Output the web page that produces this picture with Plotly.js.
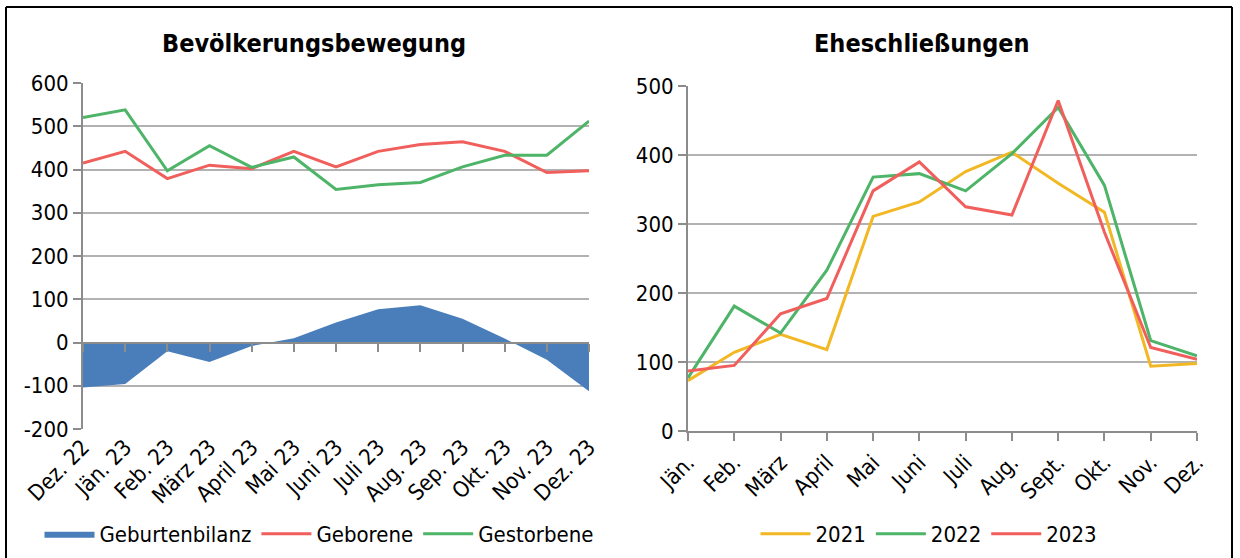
<!DOCTYPE html>
<html>
<head>
<meta charset="utf-8">
<script src="https://cdn.plot.ly/plotly-3.0.1.min.js"></script>
<style>
  html, body { margin: 0; padding: 0; background: #ffffff; }
  #chart { width: 1240px; height: 558px; }
</style>
</head>
<body>
<div id="chart"></div>
<script>
// ---- Data: Bevölkerungsbewegung ----
const monthsLeft = ['Dez. 22', 'Jän. 23', 'Feb. 23', 'März 23', 'April 23', 'Mai 23', 'Juni 23',
                    'Juli 23', 'Aug. 23', 'Sep. 23', 'Okt. 23', 'Nov. 23', 'Dez. 23'];
const geburtenbilanz = [-104, -96, -20, -45, -8, 10, 46, 77, 86, 55, 9, -40, -113];
const geborene       = [415, 442, 379, 410, 402, 442, 406, 442, 458, 464, 442, 393, 397];
const gestorbene     = [520, 538, 397, 455, 405, 429, 354, 365, 370, 406, 433, 433, 512];

// ---- Data: Eheschließungen ----
const monthsRight = ['Jän.', 'Feb.', 'März', 'April', 'Mai', 'Juni', 'Juli', 'Aug.', 'Sept.', 'Okt.', 'Nov.', 'Dez.'];
const ehe2021 = [73, 114, 140, 118, 311, 332, 376, 404, 359, 317, 94, 98];
const ehe2022 = [77, 181, 142, 233, 368, 373, 348, 402, 469, 356, 131, 109];
const ehe2023 = [87, 95, 170, 192, 348, 390, 325, 313, 479, 288, 121, 104];

const leftTicks = [-200, -100, 0, 100, 200, 300, 400, 500, 600];
const leftTickText = ['-200', '-100', '0', '100', '200', '300', '400', '500', '600'];
const rightTicks = [0, 100, 200, 300, 400, 500];

// ---- Styles ----
const FONT = '"DejaVu Sans Condensed", "DejaVu Sans", sans-serif';
const BLUE = '#4A7EBB', RED = '#F05F5C', GREEN = '#4DB468', YELLOW = '#F2B824';
const GRID = '#B2B2B2', AXIS = '#8C8C8C';
const W = 1240, H = 558;
const px = v => v / W, py = v => 1 - v / H;

const leftY0 = py(429), leftY1 = py(83);
const zeroPos = leftY0 + (leftY1 - leftY0) * (200 / 800);

const traces = [
  { x: monthsLeft, y: geburtenbilanz, name: 'Geburtenbilanz', type: 'scatter', mode: 'lines',
    fill: 'tozeroy', fillcolor: BLUE, line: { width: 0, color: BLUE },
    xaxis: 'x3', yaxis: 'y', legend: 'legend' },
  { x: monthsLeft, y: geborene, name: 'Geborene', type: 'scatter', mode: 'lines',
    line: { width: 3, color: RED }, xaxis: 'x', yaxis: 'y', legend: 'legend' },
  { x: monthsLeft, y: gestorbene, name: 'Gestorbene', type: 'scatter', mode: 'lines',
    line: { width: 3, color: GREEN }, xaxis: 'x', yaxis: 'y', legend: 'legend' },
  { x: monthsRight, y: ehe2021, name: '2021', type: 'scatter', mode: 'lines',
    line: { width: 3, color: YELLOW }, xaxis: 'x2', yaxis: 'y2', legend: 'legend2' },
  { x: monthsRight, y: ehe2022, name: '2022', type: 'scatter', mode: 'lines',
    line: { width: 3, color: GREEN }, xaxis: 'x2', yaxis: 'y2', legend: 'legend2' },
  { x: monthsRight, y: ehe2023, name: '2023', type: 'scatter', mode: 'lines',
    line: { width: 3, color: RED }, xaxis: 'x2', yaxis: 'y2', legend: 'legend2' }
];

const tickFont = { family: FONT, size: 22, color: '#000000' };

const layout = {
  width: W, height: H, autosize: false,
  margin: { l: 0, r: 0, t: 0, b: 0, pad: 0 },
  paper_bgcolor: '#ffffff', plot_bgcolor: '#ffffff',
  font: { family: FONT, size: 22, color: '#000000' },
  showlegend: true,
  xaxis: {
    domain: [px(83), px(589)], anchor: 'y', type: 'category', range: [0, 12],
    tickangle: -45, tickfont: tickFont, showgrid: false, zeroline: false,
    showline: false, ticks: '', fixedrange: true
  },
  xaxis3: {
    overlaying: 'x', anchor: 'free', position: zeroPos, type: 'category', range: [0, 12],
    showticklabels: false, showgrid: false, zeroline: false,
    showline: true, linecolor: AXIS, linewidth: 2,
    ticks: 'outside', ticklen: 8, tickwidth: 2, tickcolor: AXIS
  },
  yaxis: {
    domain: [leftY0, leftY1], anchor: 'x', range: [-200, 600],
    tickvals: leftTicks, ticktext: leftTickText, tickfont: tickFont,
    showgrid: true, gridcolor: GRID, gridwidth: 2, zeroline: false,
    showline: true, linecolor: AXIS, linewidth: 2,
    ticks: 'outside', ticklen: 8, tickwidth: 2, tickcolor: AXIS
  },
  xaxis2: {
    domain: [px(688), px(1197)], anchor: 'y2', type: 'category', range: [0, 11],
    tickangle: -45, tickfont: tickFont, showgrid: false, zeroline: false,
    showline: true, linecolor: AXIS, linewidth: 2,
    ticks: 'outside', ticklen: 8, tickwidth: 2, tickcolor: AXIS
  },
  yaxis2: {
    domain: [py(431), py(86)], anchor: 'x2', range: [0, 500],
    tickvals: rightTicks, tickfont: tickFont,
    showgrid: true, gridcolor: GRID, gridwidth: 2, zeroline: false,
    showline: true, linecolor: AXIS, linewidth: 2,
    ticks: 'outside', ticklen: 8, tickwidth: 2, tickcolor: AXIS
  },
  legend: {
    orientation: 'h', x: px(319), xanchor: 'center', y: py(534), yanchor: 'middle',
    font: { family: FONT, size: 22, color: '#000000' }, itemwidth: 50,
    bgcolor: 'rgba(0,0,0,0)', traceorder: 'normal'
  },
  legend2: {
    orientation: 'h', x: px(929), xanchor: 'center', y: py(534), yanchor: 'middle',
    font: { family: FONT, size: 22, color: '#000000' }, itemwidth: 50,
    bgcolor: 'rgba(0,0,0,0)', traceorder: 'normal'
  },
  annotations: [
    { text: '<b>Bevölkerungsbewegung</b>', xref: 'paper', yref: 'paper',
      x: px(314), y: py(44), xanchor: 'center', yanchor: 'middle', showarrow: false,
      font: { family: FONT, size: 25, color: '#000000' } },
    { text: '<b>Eheschließungen</b>', xref: 'paper', yref: 'paper',
      x: px(922), y: py(44), xanchor: 'center', yanchor: 'middle', showarrow: false,
      font: { family: FONT, size: 25, color: '#000000' } }
  ],
  shapes: [
    { type: 'line', xref: 'paper', yref: 'paper', x0: px(6), x1: px(1232), y0: py(7), y1: py(7),
      line: { color: '#000000', width: 2 } },
    { type: 'line', xref: 'paper', yref: 'paper', x0: px(6), x1: px(6), y0: py(7), y1: 0,
      line: { color: '#000000', width: 2 } },
    { type: 'line', xref: 'paper', yref: 'paper', x0: px(1232), x1: px(1232), y0: py(7), y1: 0,
      line: { color: '#000000', width: 2 } }
  ]
};

Plotly.newPlot('chart', traces, layout, { displayModeBar: false, staticPlot: true });
</script>
</body>
</html>
